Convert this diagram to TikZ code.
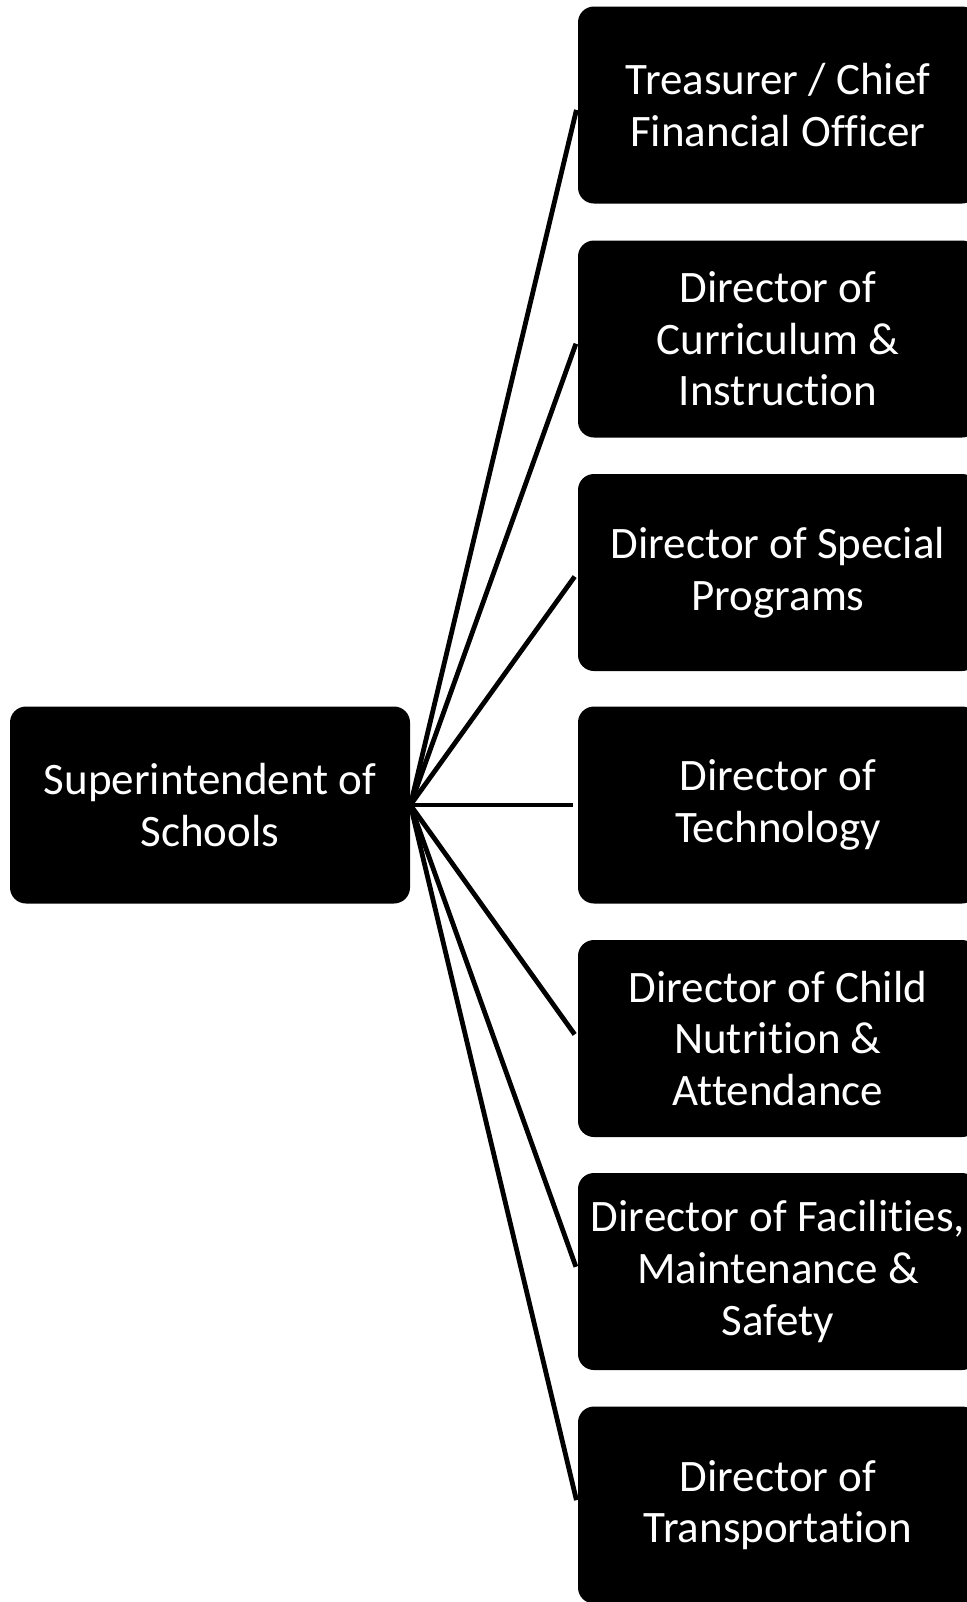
\documentclass[tikz,border=0pt]{standalone}
\usepackage{fontspec}
\setmainfont{Carlito}[RawFeature={-liga;-clig;-dlig}]
\newcommand{\orgbox}[4][]{\node[orgnode,#1] at (#2) (#3) {#4}}

\begin{document}
\begin{tikzpicture}[x=0.5pt,y=-0.5pt,
	orgnode/.style={fill=black,rounded corners=8pt,minimum width=200pt,minimum height=98.5pt,inner sep=0pt,align=center,text=white,font=\fontsize{22.5}{25.8}\selectfont},
	link/.style={line width=2.4pt,shorten >=2.5pt}]
			\useasboundingbox (0,0) rectangle (967,1602);
			\clip (0,0) rectangle (967,1602);
			
			\orgbox{210,805}{sup}{Superintendent of\\Schools};
			
			\orgbox{778,105}{cfo}{Treasurer / Chief\\Financial Officer};
			\orgbox{778,339}{curr}{Director of\\Curriculum \&\\Instruction};
			\orgbox{778,572.5}{spec}{Director of Special\\Programs};
			\orgbox{778,805}{tech}{Director of\\Technology};
			\orgbox{778,1038.5}{nutr}{Director of Child\\Nutrition \&\\Attendance};
			\orgbox{778,1271.5}{fac}{Director of Facilities,\\Maintenance \&\\Safety};
			\orgbox{778,1505}{trans}{Director of\\Transportation};
			
			\foreach \n in {cfo,curr,spec,tech,nutr,fac,trans}
				\draw[link] (sup.east) -- (\n.west);
			
\end{tikzpicture}
\end{document}
